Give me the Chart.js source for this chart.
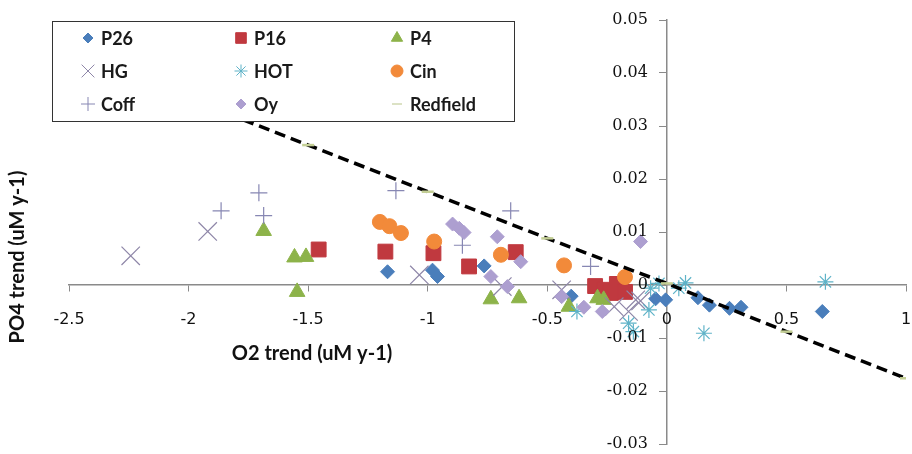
<!DOCTYPE html>
<html>
<head>
<meta charset="utf-8">
<script src="https://cdn.jsdelivr.net/npm/chart.js@4.4.0/dist/chart.umd.min.js"></script>
<style>
  html, body { margin: 0; padding: 0; background: #fff; }
  #wrap { width: 912px; height: 454px; position: relative; }
</style>
</head>
<body>
<div id="wrap"><canvas id="chart" width="912" height="454"></canvas></div>
<script>
// O2 trend (x) vs PO4 trend (y)
const p26X = [-1.168, -0.98, -0.959, -0.764, -0.40, -0.047, -0.005, 0.13, 0.178, 0.262, 0.31, 0.65];
const p26Y = [0.0025, 0.0028, 0.0016, 0.0036, -0.0021, -0.0026, -0.0028, -0.0024, -0.0038, -0.0044, -0.0042, -0.005];

const p16X = [-1.456, -1.177, -0.976, -0.827, -0.632, -0.30, -0.259, -0.209, -0.234, -0.175];
const p16Y = [0.0067, 0.0063, 0.006, 0.0035, 0.0062, -0.0002, -0.0009, 0.0002, -0.0015, -0.0013];

const p4X = [-1.686, -1.557, -1.509, -1.546, -0.736, -0.618, -0.41, -0.29, -0.264];
const p4Y = [0.0102, 0.0052, 0.0053, -0.0013, -0.0027, -0.0025, -0.0041, -0.0025, -0.0028];

const hgX = [-2.242, -1.92, -1.035, -0.688, -0.44, -0.22, -0.16, -0.13, -0.11];
const hgY = [0.0055, 0.0101, 0.0019, -0.0003, -0.0009, -0.0041, -0.005, -0.0028, -0.003];

const hotX = [-0.376, -0.16, -0.14, -0.068, -0.033, -0.075, 0.05, 0.078, 0.155, 0.663];
const hotY = [-0.005, -0.0072, -0.0088, -0.0006, 0.0003, -0.0047, -0.0006, 0.0004, -0.0091, 0.0006];

const cinX = [-1.2, -1.16, -1.112, -0.973, -0.694, -0.43, -0.175];
const cinY = [0.0119, 0.0111, 0.0098, 0.0082, 0.0057, 0.0037, 0.0015];

const coffX = [-1.864, -1.706, -1.686, -1.133, -0.855, -0.653, -0.319];
const coffY = [0.014, 0.0174, 0.0131, 0.0178, 0.0075, 0.014, 0.0035];

const oyX = [-0.896, -0.868, -0.848, -0.709, -0.611, -0.736, -0.667, -0.44, -0.347, -0.27, -0.11];
const oyY = [0.0115, 0.0107, 0.0099, 0.0091, 0.0044, 0.0016, -0.0003, -0.0022, -0.0042, -0.005, 0.0082];

const redfieldX = [-2.5, -2, -1.5, -1, -0.5, 0, 0.5, 1];
const redfieldY = [0.044, 0.0352, 0.0264, 0.0176, 0.0088, 0.0003, -0.0088, -0.0176];

const xTicks = [-2.5, -2, -1.5, -1, -0.5, 0, 0.5, 1];
const xTickLabels = ["-2.5", "-2", "-1.5", "-1", "-0.5", "0", "0.5", "1"];
const yTicks = [-0.03, -0.02, -0.01, 0, 0.01, 0.02, 0.03, 0.04, 0.05];
const yTickLabels = ["-0.03", "-0.02", "-0.01", "0", "0.01", "0.02", "0.03", "0.04", "0.05"];

const pts = (xs, ys) => xs.map((x, i) => ({ x: x, y: ys[i] }));

const series = [
  { label: "P26", x: p26X, y: p26Y, style: "rectRot", r: 7, color: "#4a7ebb", lr: 5 },
  { label: "P16", x: p16X, y: p16Y, style: "rect", r: 10.5, color: "#c0393f", lr: 7.5 },
  { label: "P4", x: p4X, y: p4Y, style: "triangle", r: 9, color: "#8db34a", lr: 6.5 },
  { label: "HG", x: hgX, y: hgY, style: "crossRot", r: 13, color: "#8e86a8", lr: 9 },
  { label: "HOT", x: hotX, y: hotY, style: "star", r: 8, color: "#5fb3c8", lr: 6.5 },
  { label: "Cin", x: cinX, y: cinY, style: "circle", r: 7.5, color: "#f28a3a", lr: 6 },
  { label: "Coff", x: coffX, y: coffY, style: "cross", r: 8.5, color: "#8787b3", lr: 7 },
  { label: "Oy", x: oyX, y: oyY, style: "rectRot", r: 7, color: "#ad9fd0", lr: 5 },
];

const datasets = series.map((s, i) => ({
  label: s.label,
  data: pts(s.x, s.y),
  pointStyle: s.style,
  pointRadius: s.r,
  pointHoverRadius: s.r,
  backgroundColor: s.color,
  borderColor: s.color,
  pointBorderWidth: (s.style === "cross" || s.style === "crossRot" || s.style === "star") ? 1.2 : 1,
  showLine: false,
  order: 9 - i
}));

datasets.push({
  label: "Redfield",
  data: pts(redfieldX, redfieldY),
  showLine: true,
  borderColor: "#000",
  borderWidth: 3.5,
  borderDash: [11, 6],
  pointStyle: "line",
  pointRadius: 6,
  pointBorderColor: "#c4cf95",
  pointBackgroundColor: "#c4cf95",
  pointBorderWidth: 2.5,
  order: 0
});

const legendItems = series.concat([{ label: "Redfield", style: "line", color: "#b9c58a", lr: 5 }]);

// white legend box drawn over the plot, like the Excel one
const boxLegend = {
  id: "boxLegend",
  afterDraw(chart) {
    const ctx = chart.ctx;
    ctx.save();
    ctx.fillStyle = "#fff";
    ctx.fillRect(52, 21, 462, 100);
    ctx.strokeStyle = "#333";
    ctx.lineWidth = 1;
    ctx.strokeRect(52.5, 21.5, 462, 100);
    const colX = [88, 241, 397];
    const rowY = [38, 71, 104];
    ctx.font = "bold 18px Lato";
    ctx.textBaseline = "middle";
    ctx.textAlign = "left";
    legendItems.forEach((it, i) => {
      const cx = colX[i % 3], cy = rowY[Math.floor(i / 3)];
      ctx.fillStyle = it.color;
      ctx.strokeStyle = it.color;
      const lineLike = it.style === "cross" || it.style === "crossRot" || it.style === "star" || it.style === "line";
      Chart.helpers.drawPoint(ctx, {
        pointStyle: it.style,
        radius: it.lr,
        rotation: 0,
        borderWidth: lineLike ? (it.style === "line" ? 3 : 1.2) : 1
      }, cx, cy);
      ctx.fillStyle = "#1a1a1a";
      ctx.fillText(it.label, cx + 13, cy + 1);
    });
    ctx.restore();
  }
};

// tick labels and axis titles placed where the original has them
const axisText = {
  id: "axisText",
  afterDatasetsDraw(chart) {
    const ctx = chart.ctx;
    const xs = chart.scales.x, ys = chart.scales.y;
    const x0 = xs.getPixelForValue(0), y0 = ys.getPixelForValue(0);
    ctx.save();
    ctx.fillStyle = "#111";
    ctx.font = "16px 'DejaVu Sans'";
    ctx.textAlign = "center";
    ctx.textBaseline = "middle";
    xTicks.forEach((v, i) => ctx.fillText(xTickLabels[i], xs.getPixelForValue(v), y0 + 35));
    ctx.font = "16px 'DejaVu Serif'";
    ctx.textAlign = "right";
    yTicks.forEach((v, i) => ctx.fillText(yTickLabels[i], x0 - 19, ys.getPixelForValue(v)));
    ctx.font = "bold 20px Lato";
    ctx.textAlign = "center";
    ctx.fillText("O2 trend (uM y-1)", 312, 354);
    ctx.translate(18, 257);
    ctx.rotate(-Math.PI / 2);
    ctx.fillText("PO4 trend (uM y-1)", 0, 0);
    ctx.restore();
  }
};

new Chart(document.getElementById("chart"), {
  type: "scatter",
  data: { datasets: datasets },
  plugins: [axisText, boxLegend],
  options: {
    responsive: false,
    animation: false,
    layout: { autoPadding: false, padding: { left: 69, right: 6, top: 20, bottom: 10 } },
    plugins: { legend: { display: false }, tooltip: { enabled: false } },
    scales: {
      x: {
        type: "linear",
        position: { y: 0 },
        min: -2.5,
        max: 1,
        afterBuildTicks: (axis) => { axis.ticks = xTicks.map(v => ({ value: v })); },
        grid: { drawOnChartArea: false, drawTicks: true, tickLength: 6, color: "#8a8a8a" },
        border: { color: "#8a8a8a", width: 1.5 },
        ticks: { display: false }
      },
      y: {
        type: "linear",
        position: { x: 0 },
        min: -0.03,
        max: 0.05,
        afterBuildTicks: (axis) => { axis.ticks = yTicks.map(v => ({ value: v })); },
        grid: { drawOnChartArea: false, drawTicks: true, tickLength: 7, color: "#8a8a8a" },
        border: { color: "#8a8a8a", width: 1.5 },
        ticks: { display: false }
      }
    }
  }
});
</script>
</body>
</html>
